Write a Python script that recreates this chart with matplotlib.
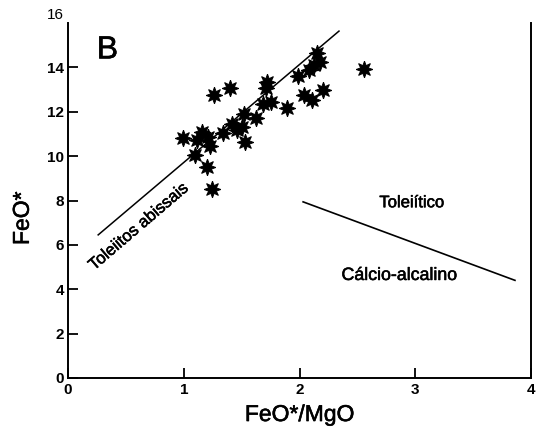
import numpy as np
import matplotlib
matplotlib.use("Agg")
import matplotlib.pyplot as plt
import matplotlib.patheffects as pe

plt.rcParams['font.family'] = ['Liberation Sans', 'DejaVu Sans']

# amostras (FeO*/MgO, FeO*)
feo_mgo = np.array([0.99, 1.11, 1.16, 1.21, 1.23, 1.10, 1.20, 1.24, 1.26, 1.40,
                    1.34, 1.42, 1.46, 1.50, 1.52, 1.53, 1.62, 1.68, 1.75, 1.72,
                    1.71, 1.89, 1.99, 2.08, 2.04, 2.11, 2.20, 2.15, 2.18, 2.12,
                    2.56])
feo = np.array([10.84, 10.72, 11.09, 10.87, 10.45, 10.05, 9.52, 8.50, 12.78, 13.08,
                11.05, 11.47, 11.17, 11.32, 11.92, 10.64, 11.74, 12.37, 12.45, 13.35,
                13.09, 12.15, 13.60, 13.87, 12.78, 12.55, 13.00, 14.63, 14.25, 14.10,
                13.91])

# linhas de referencia
abyssal_x = [0.26, 2.34]
abyssal_y = [6.45, 15.64]
divide_x = [2.03, 3.86]
divide_y = [7.94, 4.40]

xticks = [0, 1, 2, 3, 4]
yticks = [0, 2, 4, 6, 8, 10, 12, 14]

heavy = [pe.withStroke(linewidth=0.4, foreground='black')]

fig = plt.figure(figsize=(5.36, 4.28), dpi=100)
ax = fig.add_axes([0.127, 0.117, 0.864, 0.829])

ax.plot(abyssal_x, abyssal_y, color='black', lw=1.1)
ax.plot(divide_x, divide_y, color='black', lw=1.2)
ax.plot(feo_mgo, feo, linestyle='none', marker=(8, 1, 0), markersize=12,
        color='black', markeredgewidth=0.7)

ax.set_xlim(0, 4)
ax.set_ylim(0, 16)
ax.spines['top'].set_visible(False)
for s in ['left', 'bottom', 'right']:
    ax.spines[s].set_linewidth(1.4)

ax.set_xticks(xticks)
ax.set_yticks(yticks)
ax.set_xticklabels([str(t) for t in xticks], fontsize=11, fontweight='bold')
ax.set_yticklabels([str(t) for t in yticks], fontsize=11, fontweight='bold')
ax.tick_params(direction='in', length=7, width=1.3, pad=3)
ax.tick_params(axis='x', pad=4)
ax.text(-0.035, 16.35, '16', fontsize=11, ha='right', va='center', clip_on=False)

ax.set_xlabel('FeO*/MgO', fontsize=16.5, labelpad=4, path_effects=heavy)
ax.set_ylabel('FeO*', fontsize=16.5, path_effects=heavy)
ax.yaxis.set_label_coords(-0.074, 0.45)

ax.text(0.34, 14.77, 'B', fontsize=23, ha='center', va='center',
        family=['Liberation Sans Narrow', 'DejaVu Sans Condensed', 'Liberation Sans'],
        path_effects=heavy)
ax.text(0.61, 6.82, 'Toleiitos abissais', fontsize=12, rotation=40.5,
        ha='center', va='center', rotation_mode='anchor', path_effects=heavy)
ax.text(2.97, 7.9, 'Toleiítico', fontsize=12, ha='center', va='center',
        path_effects=heavy)
ax.text(2.86, 4.62, 'Cálcio-alcalino', fontsize=12.8, ha='center', va='center',
        path_effects=heavy)

fig.savefig('out.png', dpi=100)
